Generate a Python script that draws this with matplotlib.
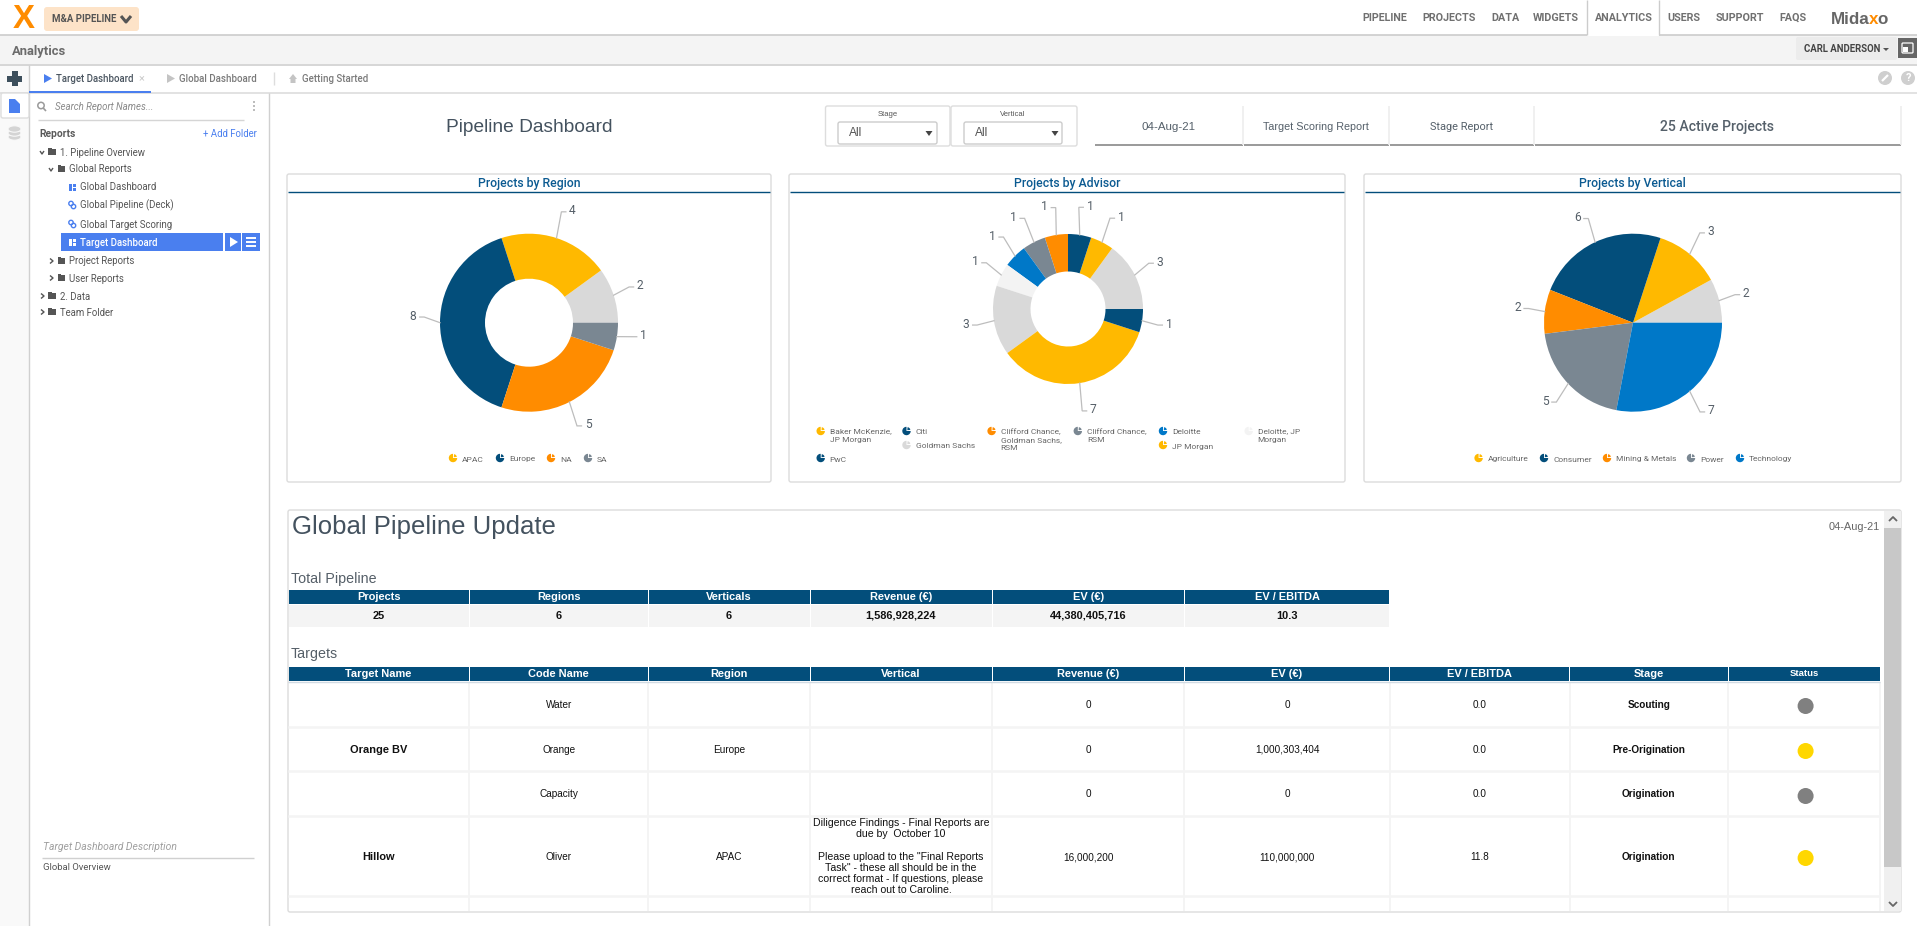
import matplotlib
matplotlib.use("Agg")
import numpy as np
import matplotlib.pyplot as plt
from matplotlib import font_manager
from matplotlib.patches import Rectangle, FancyBboxPatch, Wedge, Circle, Polygon, Ellipse
from matplotlib.lines import Line2D

# ---------------- data ----------------
GOLD, NAVY, ORANGE, SLATE, BLUE, LIGHT, PALE = "#ffb900", "#034e7b", "#ff8c00", "#7a8792", "#0078c8", "#d9d9d9", "#f3f3f3"

region_values = [2, 4, 8, 5, 1]
region_colors = [LIGHT, GOLD, NAVY, ORANGE, SLATE]
region_legend = ["APAC", "Europe", "NA", "SA"]
region_legend_colors = [GOLD, NAVY, ORANGE, SLATE]

advisor_values = [3, 1, 1, 1, 1, 1, 1, 3, 7, 1]
advisor_colors = [LIGHT, GOLD, NAVY, ORANGE, SLATE, BLUE, PALE, LIGHT, GOLD, NAVY]
advisor_legend = ["Baker McKenzie,\nJP Morgan", "Citi", "Clifford Chance,\nGoldman Sachs,\nRSM", "Clifford Chance,\nRSM",
                  "Deloitte", "Deloitte, JP\nMorgan", "Goldman Sachs", "JP Morgan", "PwC"]
advisor_legend_colors = [GOLD, NAVY, ORANGE, SLATE, BLUE, PALE, LIGHT, GOLD, NAVY]

vertical_values = [2, 3, 6, 2, 5, 7]
vertical_colors = [LIGHT, GOLD, NAVY, ORANGE, SLATE, BLUE]
vertical_legend = ["Agriculture", "Consumer", "Mining & Metals", "Power", "Technology"]
vertical_legend_colors = [GOLD, NAVY, ORANGE, SLATE, BLUE]

nav_items = ["PIPELINE", "PROJECTS", "DATA", "WIDGETS", "ANALYTICS", "USERS", "SUPPORT", "FAQS"]
tree_items = ["1. Pipeline Overview", "Global Reports", "Global Dashboard", "Global Pipeline (Deck)",
              "Global Target Scoring", "Target Dashboard", "Project Reports", "User Reports", "2. Data", "Team Folder"]
tree_levels = [0, 1, 2, 2, 2, 2, 1, 1, 0, 0]

summary_headers = ["Projects", "Regions", "Verticals", "Revenue (€)", "EV (€)", "EV / EBITDA"]
summary_values = ["25", "6", "6", "1,586,928,224", "44,380,405,716", "10.3"]
target_headers = ["Target Name", "Code Name", "Region", "Vertical", "Revenue (€)", "EV (€)", "EV / EBITDA", "Stage", "Status"]
target_names = ["", "Orange BV", "", "Hillow"]
code_names = ["Water", "Orange", "Capacity", "Oliver"]
target_regions = ["", "Europe", "", "APAC"]
target_revenue = ["0", "0", "0", "16,000,200"]
target_ev = ["0", "1,000,303,404", "0", "110,000,000"]
target_multiple = ["0.0", "0.0", "0.0", "11.8"]
target_stage = ["Scouting", "Pre-Origination", "Origination", "Origination"]
target_status = ["#808080", "#ffd700", "#808080", "#ffd700"]
note_lines = ["Diligence Findings - Final Reports are", "due by  October 10", "",
              'Please upload to the "Final Reports', 'Task" - these all should be in the',
              "correct format - If questions, please", "reach out to Caroline."]

# ---------------- layout / style ----------------
W, H = 1917, 926
TXT = "#44525f"
UIBLUE = "#4a7fef"
installed = {f.name for f in font_manager.fontManager.ttflist}
HAS_NARROW = "Liberation Sans Narrow" in installed
NARROW = "Liberation Sans Narrow" if HAS_NARROW else "Roboto"
fig = plt.figure(figsize=(W / 100, H / 100), dpi=100, facecolor="white")
ax = fig.add_axes([0, 0, 1, 1])
ax.set_xlim(0, W)
ax.set_ylim(H, 0)
ax.axis("off")

def fs(px):
    return px * 0.72

def rect(x0, y0, x1, y1, c, z=1):
    ax.add_patch(Rectangle((x0, y0), x1 - x0, y1 - y0, fc=c, ec="none", zorder=z))

def rrect(x0, y0, x1, y1, fc, ec="none", rad=3, lw=1, z=2):
    ax.add_patch(FancyBboxPatch((x0 + rad, y0 + rad), x1 - x0 - 2 * rad, y1 - y0 - 2 * rad,
                                boxstyle=f"round,pad={rad},rounding_size={rad}", fc=fc, ec=ec, lw=lw, zorder=z))

def line(xs, ys, c="#cccccc", lw=1.0, z=3, **k):
    ax.add_line(Line2D(xs, ys, color=c, lw=lw, zorder=z, solid_capstyle=k.pop("cap", "butt"), **k))

def txt(x, y, s, px=11, c=TXT, ha="left", va="center", fam="Roboto", w="normal", style="normal", z=6):
    return ax.text(x, y, s, fontsize=fs(px), color=c, ha=ha, va=va, family=fam, weight=w, style=style, zorder=z)

# ---------------- chrome ----------------
rect(0, 35, W, 64, "#f4f4f4")
line([0, W], [35, 35], "#cccccc", 1.2)
line([0, W], [64.5, 64.5], "#d0d0d0", 1.2)
line([0, W], [92.5, 92.5], "#dddddd", 1.2)
rect(0, 65, 28.5, H, "#f9f9f9")
line([28.5, 28.5], [65, H], "#d0d0d0", 1.0)
line([268.5, 268.5], [93, H], "#d0d0d0", 1.0)

# logo and pipeline pill
txt(24, 20, "X", 33, ORANGE, ha="center", fam="Liberation Sans", w="bold")
rrect(44, 7, 139, 31, "#fde3c8", rad=3)
txt(52, 19.5, "M&A PIPELINE", 12 if HAS_NARROW else 9.6, "#555555", w="bold", fam=NARROW)
line([121, 126, 131], [16, 22, 16], "#555555", 2.2, z=6)
txt(12, 51.5, "Analytics", 14.5 if HAS_NARROW else 13, "#6b6b6b", w="bold", fam=NARROW)

# top nav
nav_x = [1362, 1422.5, 1491, 1533, 1595, 1667, 1716, 1779]
rect(1587, 0, 1659, 36, "white", z=4)
line([1587, 1587], [0, 35], "#cccccc", 1.0, z=5)
line([1659, 1659], [0, 35], "#cccccc", 1.0, z=5)
for x, s in zip(nav_x, nav_items):
    txt(x, 18, s, 12 if HAS_NARROW else 10.8, "#707070", w="bold", fam=NARROW)

lx = 1831
renderer = fig.canvas.get_renderer()
for s, c in zip(["Mida", "x", "o"], ["#666666", ORANGE, "#666666"]):
    t = txt(lx, 19, s, 20 if HAS_NARROW else 17, c, w="bold", fam="Liberation Sans Narrow" if HAS_NARROW else "Liberation Sans")
    lx += t.get_window_extent(renderer).width - 1

rrect(1796, 37, 1897, 60, "#ececec", rad=2)
txt(1804, 49, "CARL ANDERSON", 11 if HAS_NARROW else 9.6, "#444444", w="bold", fam=NARROW)
ax.add_patch(Polygon([[1883, 48], [1889, 48], [1886, 51]], fc="#555555", ec="none", zorder=6))
rect(1898, 38, W, 58, "#666666", z=3)
rrect(1902, 43, 1913, 53, "none", ec="white", rad=1, lw=0.9, z=5)
rect(1903, 47, 1908, 52, "white", z=6)

# tabs
ax.add_patch(Polygon([[44, 74], [52, 78.5], [44, 83]], fc=UIBLUE, ec="none", zorder=6))
txt(56, 79, "Target Dashboard", 9.7, "#4a5560", w="medium")
txt(141, 78.5, "×", 11, "#cccccc", ha="center")
rect(29, 91, 151, 93, UIBLUE, z=5)
ax.add_patch(Polygon([[167, 74], [175, 78.5], [167, 83]], fc="#c4c4c4", ec="none", zorder=6))
txt(179, 79, "Global Dashboard", 9.8, "#7a7a7a", w="medium")
line([273.5, 273.5], [72, 85], "#dddddd")
ax.add_patch(Polygon([[289, 79], [293, 74], [297, 79], [295.5, 79], [295.5, 83], [290.5, 83], [290.5, 79]],
                     fc="#c4c4c4", ec="none", zorder=6))
txt(302, 79, "Getting Started", 9.8, "#7a7a7a", w="medium")
rect(7, 75.5, 22, 81.5, "#3d4f5c", z=5)
rect(11.5, 71, 17.5, 86, "#3d4f5c", z=5)

# wrench / help icons
ax.add_patch(Circle((1885, 78), 7, fc="#cfcfcf", ec="none", zorder=5))
line([1882, 1888], [81, 75], "white", 1.6, z=6)
ax.add_patch(Circle((1908, 78), 7, fc="#cfcfcf", ec="none", zorder=5))
txt(1908, 78, "?", 11, "white", ha="center", w="bold")

# left strip
rrect(1, 93, 29, 118, "white", ec="#dddddd", rad=2, z=3)
ax.add_patch(Polygon([[9, 99], [15, 99], [20, 104], [20, 113], [9, 113]], fc=UIBLUE, ec="none", zorder=6))
for yy in [137, 133, 129]:
    ax.add_patch(Ellipse((14.5, yy), 13, 6.4, fc="#d4d4d4", ec="#f9f9f9", lw=0.8, zorder=5))

# tree panel
ax.add_patch(Circle((41, 105.5), 3.2, fc="none", ec="#9a9a9a", lw=1.1, zorder=5))
line([43.2, 46], [108, 111], "#9a9a9a", 1.2)
txt(55, 107, "Search Report Names...", 9.6, "#8a8a8a", style="italic")
for yy in [102, 106, 110]:
    ax.add_patch(Circle((254, yy), 0.9, fc="#999999", ec="none", zorder=5))
line([37.5, 244], [119.5, 119.5], "#d5d5d5")
txt(39, 134, "Reports", 10.2, "#5a5a5a", w="bold")
txt(203, 134, "+ Add Folder", 9.6, UIBLUE)

tree_y = [152, 169, 187, 205, 224, 242, 261, 278, 296, 312]
level_x = [60, 69, 80]
rect(61, 233, 223, 251, UIBLUE, z=3)
rect(225, 233, 241, 251, UIBLUE, z=3)
rect(242, 233, 260, 251, UIBLUE, z=3)
ax.add_patch(Polygon([[230, 237], [238, 242], [230, 247]], fc="white", ec="none", zorder=6))
for yy in [238, 242, 246]:
    line([246, 256], [yy, yy], "white", 1.4, z=6)
open_rows = {0, 1}
for i, (s, lev, y) in enumerate(zip(tree_items, tree_levels, tree_y)):
    sel = s == "Target Dashboard"
    txt(level_x[lev], y + 0.5, s, 9.6, "white" if sel else "#555555", w="medium" if sel else "normal")
    if lev < 2:
        fx = 48 + 9.5 * lev
        rect(fx, y - 3.5, fx + 7.5, y + 3, "#555555", z=5)
        rect(fx, y - 4.5, fx + 3.5, y - 3, "#555555", z=5)
        cx = 42 + 9 * lev
        if i in open_rows:
            line([cx - 2, cx, cx + 2], [y - 1, y + 2, y - 1], "#555555", 1.0, z=5)
        else:
            line([cx - 1, cx + 2, cx - 1], [y - 2.5, y, y + 2.5], "#555555", 1.0, z=5)
    else:
        c = "white" if sel else UIBLUE
        if "Deck" in s or "Scoring" in s:
            ax.add_patch(Circle((71, y - 1.5), 2.2, fc="none", ec=c, lw=1, zorder=5))
            ax.add_patch(Circle((73.5, y + 1.5), 2.2, fc="none", ec=c, lw=1, zorder=5))
        else:
            rect(69, y - 3.5, 71.5, y + 3.5, c, z=5)
            rect(73, y - 3.5, 75.5, y - 0.5, c, z=5)
            rect(73, y + 0.5, 75.5, y + 3.5, c, z=5)

txt(43, 846.5, "Target Dashboard Description", 10.4, "#a0a0a0", style="italic")
line([42, 254], [857.5, 857.5], "#d0d0d0")
txt(43, 868, "Global Overview", 9.5, "#555555")

# page header
txt(529, 127, "Pipeline Dashboard", 19.2, TXT, ha="center", fam="Liberation Sans")
for x0, x1, x2, x3, tc, cr, label in [(825.5, 950, 838, 937, 888, 929, "Stage"), (951, 1077, 964, 1062, 1013, 1055, "Vertical")]:
    rrect(x0, 106, x1, 146, "white", ec="#dddddd", rad=2)
    txt(tc, 114, label, 7.6, "#555555", ha="center", fam="Liberation Sans")
    rrect(x2, 122, x3, 144, "white", ec="#cccccc", rad=2, z=3)
    txt(x2 + 11, 133.5, "All", 12, "#555555", fam="Liberation Sans")
    ax.add_patch(Polygon([[cr - 3.5, 131], [cr + 3.5, 131], [cr, 136]], fc="#444444", ec="none", zorder=6))

tiles = [(1094.5, 1243, "04-Aug-21", 11.5, "normal", "Liberation Sans"), (1243, 1389, "Target Scoring Report", 10.8, "normal", "Liberation Sans"),
         (1389, 1534, "Stage Report", 11, "normal", "Roboto"), (1534, 1901, "25 Active Projects", 14, "medium", "Roboto")]
for x0, x1, s, px, wt, fam in tiles:
    txt((x0 + x1) / 2, 126.5, s, px, "#55606a", ha="center", w=wt, fam=fam)
    line([x0 + .5, x1 - .5], [145.3, 145.3], "#9a9a9a", 1.4)
    line([x1, x1], [106, 145], "#eeeeee", 1.2)

# ---------------- chart panels ----------------
def panel(x0, x1, title):
    rrect(x0, 174, x1, 482, "white", ec="#dcdcdc", rad=2, lw=1.0)
    line([x0 + 1, x1 - 1], [191.7, 191.7], NAVY, 1.0, z=4)
    txt((x0 + x1) / 2, 183, title, 12.2, "#0b5a91", ha="center", w="medium")

def pie_chart(cx, cy, R, r, values, colors, nudges, radii):
    bw, bh = 2 * R + 200, 2 * R + 100
    a = fig.add_axes([(cx - bw / 2) / W, 1 - (cy + bh / 2) / H, bw / W, bh / H])
    a.patch.set_alpha(0)
    wp = dict(edgecolor="none")
    if r > 0:
        wp["width"] = R - r
    a.pie(values, colors=colors, radius=R, startangle=0, counterclock=True, wedgeprops=wp)
    a.set_xlim(-bw / 2, bw / 2)
    a.set_ylim(-bh / 2, bh / 2)
    a.set_aspect("equal")
    a.axis("off")
    vals = np.array(values, float)
    cum = np.cumsum(vals)
    mids = (cum - vals / 2) / vals.sum() * 360
    for v, m, n, lr in zip(values, mids, nudges, radii):
        p = np.deg2rad(m + n)
        lx_, ly_ = lr * np.cos(p), lr * np.sin(p)
        e = np.deg2rad(m)
        s = 1 if lx_ >= 0 else -1
        a.plot([R * np.cos(e), lx_ - s * 11, lx_ - s * 6.5], [R * np.sin(e), ly_ - 1, ly_ - 1],
               color="#bdbdbd", lw=0.9, solid_joinstyle="miter")
        a.text(lx_, ly_, str(v), fontsize=fs(12), color="#555f68", ha="center", va="center", family="Roboto")

def pie_marker(x, y, c):
    ax.add_patch(Wedge((x, y), 4.2, 0, 270, fc=c, ec="none", zorder=6))
    ax.add_patch(Wedge((x + 0.8, y - 0.8), 3.0, 275, 355, fc=c, ec="none", zorder=6))

def legend_item(mx, my, tx, ty, s, c):
    pie_marker(mx, my, c)
    ax.text(tx, ty, s, fontsize=fs(8.4), color="#666666", ha="left", va="center", family="Roboto",
            linespacing=1.42, zorder=6)

panel(287, 771, "Projects by Region")
panel(789, 1345, "Projects by Advisor")
panel(1364, 1901, "Projects by Vertical")

pie_chart(529, 322.7, 89, 44, region_values, region_colors, [0.3, -3.2, -3.3, 3, 2.5], [117, 120, 116, 118, 115])
pie_chart(1068, 309, 75, 37.5, advisor_values, advisor_colors,
          [0, -3, -3, 3.8, 3.7, 1, 0, -0.6, 5, 0.5], [103, 106, 105, 105, 106.6, 105, 104, 103, 104, 102])
pie_chart(1633, 322.7, 89, 0, vertical_values, vertical_colors, [0, -1, 2.7, -0.3, -1.4, 1.9], [116.7, 119.6, 119, 116.5, 117.6, 117.8])

for s, c, mx, tx in zip(region_legend, region_legend_colors, [453, 500, 551, 588], [462, 509, 560, 597]):
    legend_item(mx, 458, tx, 459.5, s, c)

adv_mx = [820.7, 906.5, 991.6, 1077.8, 1163, 1248.7, 906.5, 1163, 820.7]
adv_my = [431, 431, 431, 431, 431, 431, 445, 445, 458]
adv_ty = [435.5, 432.5, 440, 435.5, 432.5, 435.5, 446.5, 446.5, 459.5]
for s, c, mx, my, ty in zip(advisor_legend, advisor_legend_colors, adv_mx, adv_my, adv_ty):
    legend_item(mx, my, mx + 9, ty, s, c)

for s, c, mx, tx in zip(vertical_legend, vertical_legend_colors, [1478.6, 1544, 1607, 1691, 1740], [1487.5, 1553, 1616.5, 1700, 1749]):
    legend_item(mx, 458, tx, 459.5, s, c)

# ---------------- report panel ----------------
AR = "Liberation Sans"
rrect(288, 510, 1901, 912, "white", ec="#dcdcdc", rad=2, lw=1.0)
rect(1884, 511, 1901, 911, "#f0f0f0", z=3)
rect(1884, 528, 1901, 867, "#c8c8c8", z=4)
line([1889, 1893, 1897], [521, 517, 521], "#666666", 1.3, z=5)
line([1889, 1893, 1897], [902, 906, 902], "#666666", 1.3, z=5)
txt(291.5, 527, "Global Pipeline Update", 25.7, TXT, fam=AR)
txt(1879.6, 527, "04-Aug-21", 11, "#666666", ha="right", fam=AR)
txt(291, 579, "Total Pipeline", 14.2, "#555f68", fam=AR)
txt(291, 654, "Targets", 14.2, "#555f68", fam=AR)

col = [288, 469.3, 648, 810, 992, 1184.4, 1389.7, 1569.5, 1728, 1880]
HDR = "#034e7b"
for i, (h, v) in enumerate(zip(summary_headers, summary_values)):
    x0, x1 = col[i], col[i + 1]
    rect(x0 + .5, 590, x1 - .5, 603.5, HDR, z=3)
    rect(x0 + .5, 605, x1 - .5, 627, "#f4f4f4", z=3)
    txt((x0 + x1) / 2, 597, h, 11, "white", ha="center", fam=AR, w="bold")
    txt((x0 + x1) / 2, 616, v, 11, "#111111", ha="center", fam=AR, w="bold")

for i, h in enumerate(target_headers):
    x0, x1 = col[i], col[i + 1]
    rect(x0 + .5, 667, x1 - .5, 681, HDR, z=3)
    is_last = i == len(target_headers) - 1
    txt((x0 + x1) / 2, 673.5 if is_last else 674, h, 9.5 if is_last else 11, "white", ha="center", fam=AR, w="bold")

for x in col[1:]:
    line([x, x], [682, 911], "#f4f4f4", 1.4, z=4)
line([288, 1880], [681.8, 681.8], "#d0dae2", 1.0, z=4)
for y in [727, 771, 816, 896]:
    line([288, 1880], [y, y], "#f4f4f4", 1.8, z=4)

row_y = [705, 750, 794, 857]
status_y = [706, 751, 796, 858]
cols = [(target_names, "bold", 11), (code_names, "normal", 10), (target_regions, "normal", 10), None,
        (target_revenue, "normal", 10), (target_ev, "normal", 10), (target_multiple, "normal", 10), (target_stage, "bold", 10)]
for i, spec in enumerate(cols):
    if spec is None:
        continue
    vals, wt, px = spec
    xc = (col[i] + col[i + 1]) / 2
    for s, y in zip(vals, row_y):
        txt(xc, y, s, px, "#111111", ha="center", fam=AR, w=wt)

note_y = [823, 834, 845, 857, 868, 879, 890]
for s, y in zip(note_lines, note_y):
    txt((col[3] + col[4]) / 2, y, s, 10.5, "#111111", ha="center", fam=AR)

for c, y in zip(target_status, status_y):
    ax.add_patch(Circle((1805.6, y), 8, fc=c, ec="none", zorder=6))

fig.savefig("out.png", dpi=100, facecolor="white")
